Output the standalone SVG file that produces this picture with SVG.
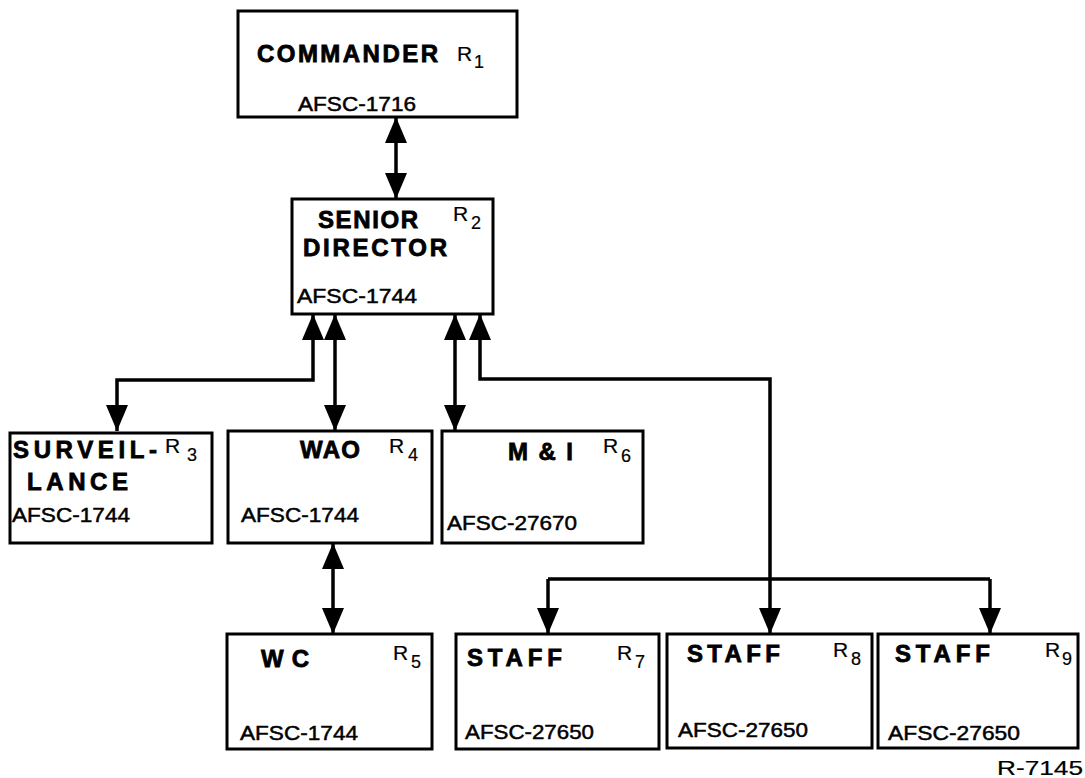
<svg xmlns="http://www.w3.org/2000/svg" width="1085" height="778" viewBox="0 0 1085 778">
<defs>
<marker id="ah" viewBox="0 0 26 22" refX="26" refY="11" markerWidth="26" markerHeight="22" markerUnits="userSpaceOnUse" orient="auto-start-reverse">
<path d="M0,0 L26,11 L0,22 z" fill="#000"/>
</marker>
<style>
.box{fill:#fff;stroke:#000;stroke-width:3}
.t{font-family:"Liberation Sans",Arial,sans-serif;font-weight:bold;font-size:24px;fill:#000;stroke:#000;stroke-width:0.8}
.a{font-family:"Liberation Sans",Arial,sans-serif;font-size:21px;fill:#000;stroke:#000;stroke-width:0.5}
.r{font-family:"Liberation Sans",Arial,sans-serif;font-size:21px;fill:#000;stroke:#000;stroke-width:0.2}
.s{font-family:"Liberation Sans",Arial,sans-serif;font-size:18px;fill:#000;stroke:#000;stroke-width:0.2}
.c{fill:none;stroke:#000;stroke-width:3.5}
.c2{fill:none;stroke:#000;stroke-width:3.5;marker-start:url(#ah);marker-end:url(#ah)}
.c1{fill:none;stroke:#000;stroke-width:3.5;marker-end:url(#ah)}
</style>
</defs>
<rect width="1085" height="778" fill="#fff"/>
<g id="connectors">
<path class="c2" d="M396,117 V199"/>
<path class="c2" d="M313,314 V380 H117 V431"/>
<path class="c2" d="M335,314 V431"/>
<path class="c2" d="M455,314 V431"/>
<path class="c2" d="M480,314 V379 H770 V634"/>
<path class="c1" d="M548,579 V634"/>
<path class="c" d="M548,579 H990"/>
<path class="c1" d="M990,579 V634"/>
<path class="c2" d="M333,543 V634"/>
</g>
<g id="commander">
<rect class="box" x="238" y="11" width="279" height="106"/>
<text class="t" x="257" y="62" font-size="25" textLength="181" lengthAdjust="spacing">COMMANDER</text>
<text class="r" x="457" y="61" font-size="22">R</text><text class="s" x="474" y="68">1</text>
<text class="a" x="298" y="111" textLength="118" lengthAdjust="spacingAndGlyphs">AFSC-1716</text>
</g>
<g id="senior-director">
<rect class="box" x="292" y="199" width="201" height="115"/>
<text class="t" x="318" y="228" textLength="100" lengthAdjust="spacing">SENIOR</text>
<text class="t" x="303" y="256" textLength="144" lengthAdjust="spacing">DIRECTOR</text>
<text class="r" x="453" y="221">R</text><text class="s" x="471" y="229">2</text>
<text class="a" x="297" y="303" textLength="120" lengthAdjust="spacingAndGlyphs">AFSC-1744</text>
</g>
<g id="surveillance">
<rect class="box" x="10" y="433" width="202" height="110"/>
<text class="t" x="13" y="458" textLength="144" lengthAdjust="spacing">SURVEIL-</text>
<text class="r" x="165" y="453">R</text><text class="s" x="187" y="461">3</text>
<text class="t" x="27" y="490" textLength="101" lengthAdjust="spacing">LANCE</text>
<text class="a" x="12" y="522" textLength="118" lengthAdjust="spacingAndGlyphs">AFSC-1744</text>
</g>
<g id="wao">
<rect class="box" x="228" y="431" width="204" height="112"/>
<text class="t" x="300" y="458" textLength="60" lengthAdjust="spacing">WAO</text>
<text class="r" x="389" y="453">R</text><text class="s" x="408" y="461">4</text>
<text class="a" x="241" y="522" textLength="118" lengthAdjust="spacingAndGlyphs">AFSC-1744</text>
</g>
<g id="mi">
<rect class="box" x="442" y="431" width="201" height="112"/>
<text class="t" x="508" y="460" textLength="65" lengthAdjust="spacing">M &amp; I</text>
<text class="r" x="603" y="453">R</text><text class="s" x="621" y="462">6</text>
<text class="a" x="447" y="530" textLength="130" lengthAdjust="spacingAndGlyphs">AFSC-27670</text>
</g>
<g id="wc">
<rect class="box" x="227" y="634" width="205" height="115"/>
<text class="t" x="261" y="667" textLength="48" lengthAdjust="spacing">WC</text>
<text class="r" x="393" y="660">R</text><text class="s" x="411" y="668">5</text>
<text class="a" x="240" y="740" textLength="118" lengthAdjust="spacingAndGlyphs">AFSC-1744</text>
</g>
<g id="staff-r7">
<rect class="box" x="456" y="634" width="203" height="115"/>
<text class="t" x="467" y="666" textLength="95" lengthAdjust="spacing">STAFF</text>
<text class="r" x="617" y="660">R</text><text class="s" x="635" y="668">7</text>
<text class="a" x="465" y="739" textLength="129" lengthAdjust="spacingAndGlyphs">AFSC-27650</text>
</g>
<g id="staff-r8">
<rect class="box" x="667" y="634" width="205" height="114"/>
<text class="t" x="687" y="662" textLength="93" lengthAdjust="spacing">STAFF</text>
<text class="r" x="833" y="657">R</text><text class="s" x="851" y="665">8</text>
<text class="a" x="678" y="737" textLength="130" lengthAdjust="spacingAndGlyphs">AFSC-27650</text>
</g>
<g id="staff-r9">
<rect class="box" x="878" y="634" width="200" height="114"/>
<text class="t" x="895" y="662" textLength="95" lengthAdjust="spacing">STAFF</text>
<text class="r" x="1045" y="657">R</text><text class="s" x="1062" y="665">9</text>
<text class="a" x="888" y="740" textLength="132" lengthAdjust="spacingAndGlyphs">AFSC-27650</text>
</g>
<text class="r" x="997" y="775" textLength="86" lengthAdjust="spacingAndGlyphs">R-7145</text>
</svg>
